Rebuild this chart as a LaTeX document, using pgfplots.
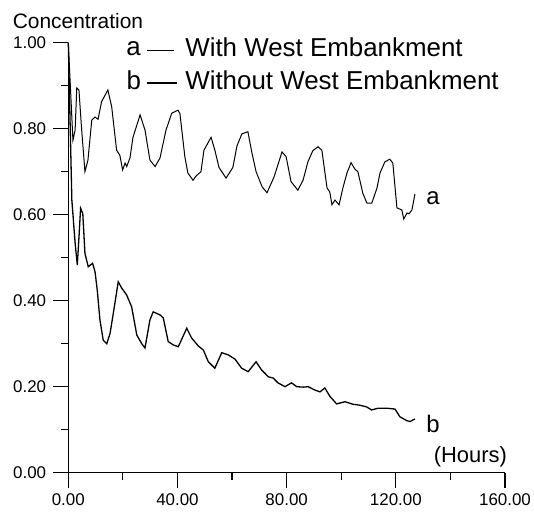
\documentclass[border=0pt]{standalone}
\usepackage{fontspec}
\setmainfont{Liberation Sans}
\usepackage{pgfplots}
\pgfplotsset{compat=1.18}
\begin{document}
\begin{tikzpicture}
\begin{axis}[
  scale only axis,
  width=436.7bp, height=430bp,
  xmin=0, xmax=160, ymin=0, ymax=1,
  axis x line=bottom, axis y line=left,
  axis line style={-, line width=1.4bp},
  xtick={0,40,80,120,160}, ytick={0,0.2,0.4,0.6,0.8,1.0},
  minor xtick={20,60,100,140}, minor ytick={0.1,0.3,0.5,0.7,0.9},
  tick align=outside,
  major tick length=15bp, minor tick length=7bp,
  every tick/.style={black, line width=1.2bp},
  /pgf/number format/assume math mode=true,
  /pgf/number format/.cd, fixed, fixed zerofill, precision=2, 1000 sep={},
  /pgfplots/.cd,
  ticklabel style={font=\fontsize{17}{17}\selectfont},
  yticklabel style={inner sep=0pt, xshift=-7bp},
  xticklabel style={inner sep=0pt, yshift=-6bp},
  clip=false,
]
\addplot[black, line width=1.0bp] coordinates {
(0,1.00) (0.6,0.92) (1.7,0.773) (2.5,0.797) (3.1,0.895) (3.9,0.89) (4.9,0.797)
(6.1,0.70) (7.2,0.727) (8.6,0.82) (9.8,0.827) (10.9,0.822) (12.2,0.863) (14.5,0.89)
(15.9,0.851) (17.7,0.75) (18.9,0.738) (19.9,0.704) (20.8,0.72) (21.4,0.712) (22.6,0.732)
(23.7,0.78) (26.3,0.832) (28.1,0.797) (29.9,0.727) (31.8,0.712) (33.6,0.732) (35.8,0.797)
(37.9,0.836) (40.2,0.843) (40.9,0.835) (42.7,0.735) (43.8,0.697) (45.7,0.68) (46.8,0.69)
(48.6,0.70) (49.7,0.75) (52.3,0.78) (53.7,0.75) (55.2,0.71) (57.8,0.685) (60.3,0.71)
(61.8,0.76) (63.6,0.788) (65.8,0.793) (67.3,0.743) (68.8,0.70) (71.0,0.665) (72.8,0.651)
(75.4,0.688) (76.8,0.716) (78.3,0.746) (79.8,0.735) (81.6,0.677) (84.1,0.657) (86.0,0.68)
(87.8,0.723) (89.6,0.749) (91.5,0.758) (92.9,0.75) (94.8,0.662) (95.8,0.653) (96.6,0.623)
(97.7,0.634) (99.2,0.623) (100.6,0.662) (102.1,0.697) (103.6,0.721) (105.0,0.706)
(106.1,0.70) (107.9,0.65) (109.4,0.627) (111.2,0.627) (113.1,0.662) (114.2,0.697)
(116.0,0.723) (117.8,0.729) (118.9,0.72) (120.4,0.616) (122.2,0.611) (122.9,0.59)
(124.1,0.604) (124.8,0.602) (125.9,0.611) (127.0,0.648)
};
\addplot[black, line width=1.3bp] coordinates {
(0,1.00) (1.3,0.634) (2.5,0.534) (3.3,0.483) (4.0,0.557) (4.5,0.615) (5.3,0.603)
(6.1,0.51) (7.3,0.479) (8.9,0.487) (9.8,0.467) (10.6,0.425) (11.6,0.355) (12.8,0.308)
(14.1,0.30) (15.3,0.324) (16.5,0.371) (18.3,0.444) (19.6,0.429) (21.4,0.413) (23.2,0.386)
(25.1,0.32) (26.9,0.30) (28.1,0.29) (29.9,0.355) (31.1,0.374) (33.6,0.367) (34.8,0.36)
(36.6,0.305) (38.5,0.297) (40.3,0.293) (43.4,0.336) (45.2,0.313) (47.6,0.295) (49.5,0.285)
(51.3,0.258) (53.7,0.243) (56.2,0.279) (58.6,0.274) (61.1,0.264) (63.5,0.243) (65.9,0.235)
(68.8,0.258) (70.8,0.239) (73.3,0.223) (75.1,0.22) (76.8,0.209) (79.4,0.20) (81.8,0.209)
(83.7,0.20) (86.1,0.199) (87.9,0.20) (90.4,0.192) (92.2,0.188) (94.0,0.197) (95.9,0.177)
(98.3,0.16) (101.4,0.165) (104.4,0.159) (106.8,0.157) (109.3,0.153) (111.1,0.146)
(113.6,0.15) (116.6,0.15) (119.7,0.148) (121.5,0.13) (124.0,0.121) (125.2,0.119) (127.0,0.125)
};
% text
\node[anchor=base west, inner sep=0pt, font=\fontsize{21}{21}\selectfont] at (axis cs:-20.4,1.034) {Concentration};
\node[anchor=base, inner sep=0pt, font=\fontsize{26}{26}\selectfont] at (axis cs:23.9,0.971) {a};
\draw[black, line width=0.7bp] (axis cs:28.8,0.983) -- (axis cs:38.7,0.983);
\node[anchor=base west, inner sep=0pt, font=\fontsize{26}{26}\selectfont] at (axis cs:42.8,0.969) {With West Embankment};
\node[anchor=base, inner sep=0pt, font=\fontsize{26}{26}\selectfont] at (axis cs:24.0,0.890) {b};
\draw[black, line width=1.3bp] (axis cs:28.8,0.906) -- (axis cs:39.8,0.906);
\node[anchor=base west, inner sep=0pt, font=\fontsize{26}{26}\selectfont] at (axis cs:42.8,0.890) {Without West Embankment};
\node[anchor=base, inner sep=0pt, font=\fontsize{24}{24}\selectfont] at (axis cs:133.6,0.623) {a};
\node[anchor=base, inner sep=0pt, font=\fontsize{24}{24}\selectfont] at (axis cs:133.6,0.093) {b};
\node[anchor=base, inner sep=0pt, font=\fontsize{22}{22}\selectfont] at (axis cs:147.3,0.023) {(Hours)};
\path (rel axis cs:-0.1564,-0.0937) rectangle (rel axis cs:1.0664,1.0993);
\end{axis}
\end{tikzpicture}
\end{document}
